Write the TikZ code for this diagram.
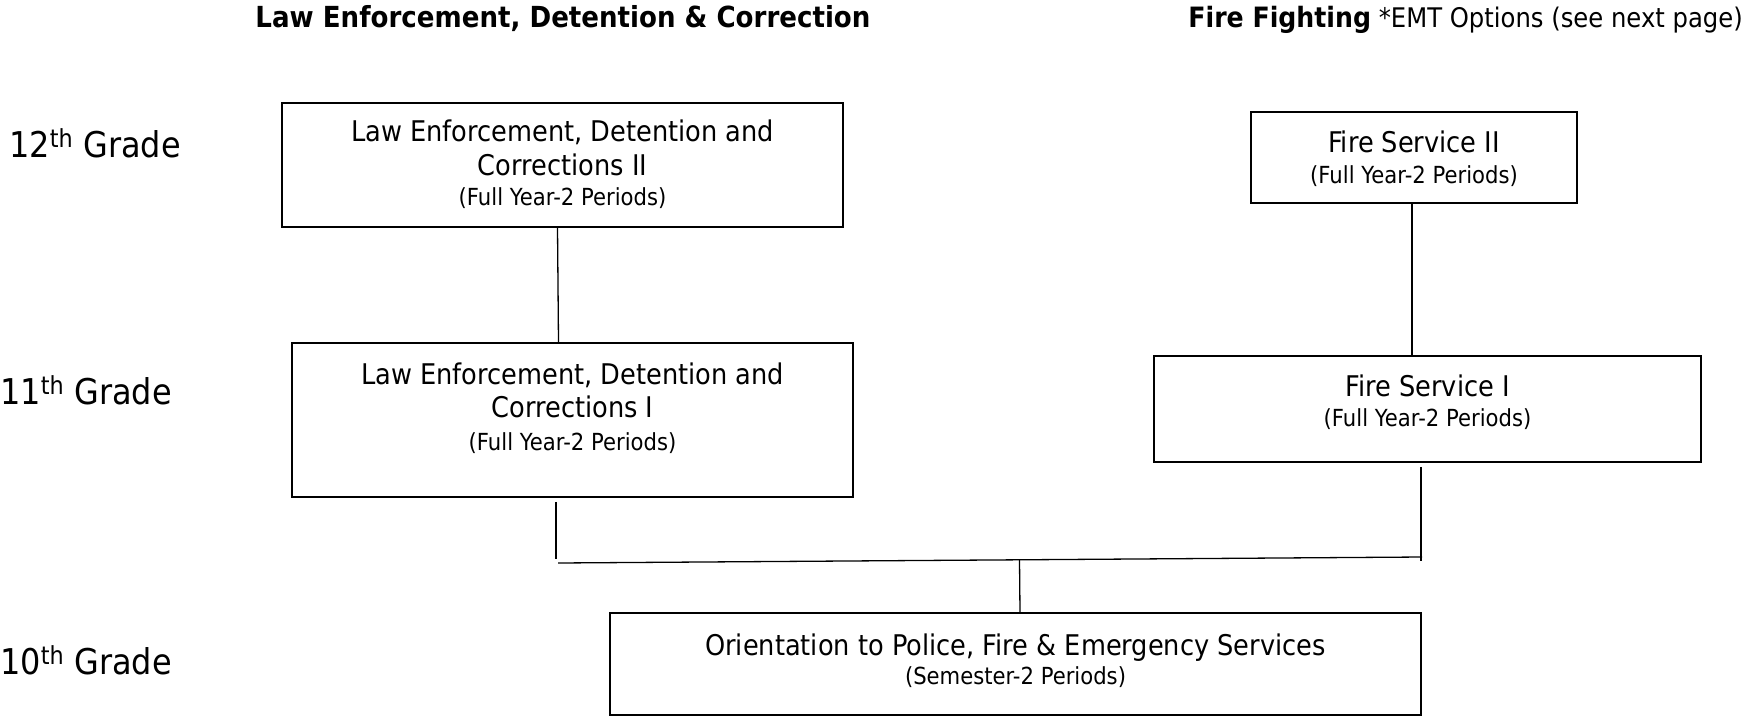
\documentclass[tikz,border=0pt]{standalone}
\usepackage{fontspec}
\setmainfont{DejaVu Sans}[FakeStretch=0.9]
\begin{document}
\begin{tikzpicture}[x=1pt,y=-1pt,
  box/.style={draw, line width=1.8pt, inner sep=0pt},
  big/.style={font=\fontsize{28.5}{30}\selectfont, anchor=base, inner sep=0pt},
  small/.style={font=\fontsize{23.5}{26}\selectfont, anchor=base, inner sep=0pt},
  grade/.style={font=\fontsize{35.5}{38}\selectfont, anchor=base west, inner sep=0pt},
  head/.style={font=\fontsize{27}{30}\selectfont, inner sep=0pt},
  link/.style={line width=1.3pt}]
\useasboundingbox (0,0) rectangle (1745,718);

% column headings
\node[head, anchor=base] (hlaw) at (563,27) {\fontsize{29}{30}\selectfont\bfseries Law Enforcement, Detention \& Correction};
\node[head, anchor=base east] (hfire) at (1743,27) {{\fontsize{28}{30}\selectfont\bfseries Fire Fighting} *EMT Options (see next page)};

% grade labels
\node[grade] (g12) at (9,157) {12\textsuperscript{th} Grade};
\node[grade] (g11) at (0,404) {11\textsuperscript{th} Grade};
\node[grade] (g10) at (0,674) {10\textsuperscript{th} Grade};

% course boxes
\node[box, minimum width=561pt, minimum height=124pt] (ledcII) at (562.5,165) {};
\node[box, minimum width=326pt, minimum height=91pt] (fireII) at (1414,157.5) {};
\node[box, minimum width=561pt, minimum height=154pt] (ledcI) at (572.5,420) {};
\node[box, minimum width=547pt, minimum height=106pt] (fireI) at (1427.5,409) {};
\node[box, minimum width=811pt, minimum height=102pt] (orient) at (1015.5,664) {};

% box texts
\node[big] (t2a) at (562.5,141) {Law Enforcement, Detention and};
\node[big] (t2b) at (562.5,175) {Corrections II};
\node[small] (t2c) at (562.5,205) {(Full Year-2 Periods)};

\node[big] (f2a) at (1414,152) {Fire Service II};
\node[small] (f2b) at (1414,183) {(Full Year-2 Periods)};

\node[big] (t1a) at (572.5,384) {Law Enforcement, Detention and};
\node[big] (t1b) at (572.5,417) {Corrections I};
\node[small] (t1c) at (572.5,450) {(Full Year-2 Periods)};

\node[big] (f1a) at (1427.5,396) {Fire Service I};
\node[small] (f1b) at (1427.5,426) {(Full Year-2 Periods)};

\node[big] (oa) at (1015.5,655) {Orientation to Police, Fire \& Emergency Services};
\node[small] (ob) at (1015.5,684) {(Semester-2 Periods)};

% connectors
\coordinate (jl) at (558,563);
\coordinate (jr) at (1422,557);
\coordinate (jm) at (1019.5,560);
\coordinate (jlv) at (556,559);
\coordinate (jrv) at (1421,561);

\draw[link] ([xshift=-5pt]ledcII.south) -- ([xshift=-14pt]ledcI.north);
\draw[link] ([xshift=-2pt]fireII.south) -- ([xshift=-15.5pt]fireI.north);
\draw[link] ([xshift=-16.5pt,yshift=-4pt]ledcI.south) -- (jlv);
\draw[link] ([xshift=-6.5pt,yshift=-4pt]fireI.south) -- (jrv);
\draw[link] (jl) -- (jr);
\draw[link] (jm) -- ([xshift=4.5pt]orient.north);
\end{tikzpicture}
\end{document}
